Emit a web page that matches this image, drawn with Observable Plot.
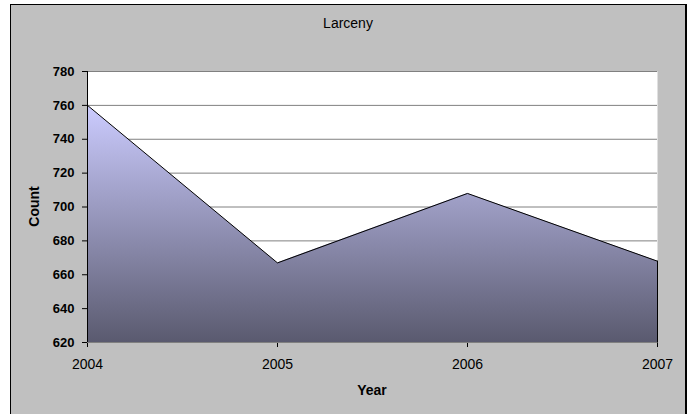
<!DOCTYPE html>
<html>
<head>
<meta charset="utf-8">
<script src="https://cdn.jsdelivr.net/npm/d3@7"></script>
<script src="https://cdn.jsdelivr.net/npm/@observablehq/plot@0.6"></script>
<style>
  html, body { margin: 0; padding: 0; background: #fff; overflow: hidden; }
  #box { position: absolute; left: 10px; top: 4px; width: 677px; height: 430px; box-sizing: border-box;
         background: #c0c0c0; border: 1px solid #000; border-right-width: 2px; }
  #chart { position: absolute; left: 0; top: 0; }
  #chart svg [aria-label^="y-axis"] text { font-weight: bold; font-size: 13px; }
  #chart svg [aria-label^="x-axis"] text { font-size: 14px; }
</style>
</head>
<body>
<div id="box"></div>
<div id="chart"></div>
<script>
const years = [2004, 2005, 2006, 2007];
const counts = [760, 667, 708, 668];
const yTicks = [620, 640, 660, 680, 700, 720, 740, 760, 780];
const yDomain = [620, 780];
const titleText = "Larceny";
const xLabel = "Year";
const yLabel = "Count";

const data = years.map((year, i) => ({year, count: counts[i]}));

const W = 691, H = 414, mL = 87, mR = 34, mT = 71, mB = 72;

const svg = Plot.plot({
  width: W, height: H,
  marginLeft: mL, marginRight: mR, marginTop: mT, marginBottom: mB,
  style: {background: "transparent", fontFamily: "'Liberation Sans', Arial, sans-serif", fontSize: "13px", color: "#000", overflow: "visible"},
  x: {type: "linear", domain: [years[0], years[years.length - 1]], ticks: years, tickFormat: d => String(d), tickSize: 5, tickPadding: 12, label: null},
  y: {domain: yDomain, ticks: yTicks, tickSize: 5, tickPadding: 8, label: null},
  marks: [
    Plot.frame({fill: "#fff", stroke: null}),
    Plot.ruleY(yTicks, {stroke: "#808080", strokeWidth: 1}),
    Plot.areaY(data, {x: "year", y1: () => yDomain[0], y2: "count", fill: "url(#larcenyFill)"}),
    Plot.line(data, {x: "year", y: "count", stroke: "#000", strokeWidth: 1}),
    Plot.ruleX(data.slice(-1), {x: "year", y1: () => yDomain[0], y2: "count", stroke: "#000", strokeWidth: 1}),
    Plot.ruleY([yDomain[0]], {stroke: "#808080", strokeWidth: 1}),
    Plot.ruleX([years[0]], {stroke: "#000", strokeWidth: 1})
  ]
});

const s = d3.select(svg);
const grad = s.insert("defs", ":first-child").append("linearGradient")
  .attr("id", "larcenyFill").attr("x1", 0).attr("y1", 0).attr("x2", 0).attr("y2", 1);
grad.append("stop").attr("offset", "0%").attr("stop-color", "#ccccff");
grad.append("stop").attr("offset", "100%").attr("stop-color", "#5a5a6f");

const font = "'Liberation Sans', Arial, sans-serif";
s.append("text").attr("x", 348).attr("y", 28).attr("text-anchor", "middle")
  .attr("font-family", font).attr("font-size", 14).attr("fill", "#000").text(titleText);
s.append("text").attr("x", mL + (W - mL - mR) / 2).attr("y", 395).attr("text-anchor", "middle")
  .attr("font-family", font).attr("font-size", 14).attr("font-weight", "bold").attr("fill", "#000").text(xLabel);
s.append("text").attr("transform", `translate(39,${mT + (H - mT - mB) / 2}) rotate(-90)`).attr("text-anchor", "middle")
  .attr("font-family", font).attr("font-size", 14).attr("font-weight", "bold").attr("fill", "#000").text(yLabel);

document.getElementById("chart").appendChild(svg);
</script>
</body>
</html>
